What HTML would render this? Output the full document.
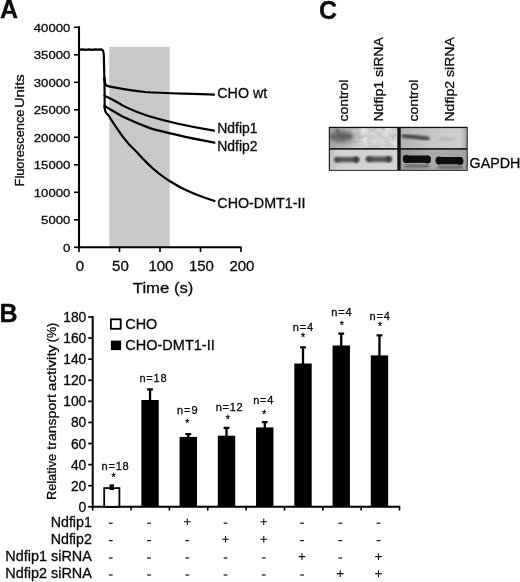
<!DOCTYPE html>
<html><head><meta charset="utf-8"><title>Figure</title>
<style>html,body{margin:0;padding:0;background:#fff}svg{display:block}text{font-family:"Liberation Sans",sans-serif;fill:#0a0a0a;stroke:#0a0a0a;stroke-width:0.3px}</style>
</head><body>
<svg width="520" height="582" viewBox="0 0 520 582">
<defs>
<filter id="b1" x="-30%" y="-80%" width="160%" height="260%"><feGaussianBlur stdDeviation="1.1"/></filter>
<filter id="b2" x="-30%" y="-80%" width="160%" height="260%"><feGaussianBlur stdDeviation="2.2"/></filter>
<filter id="b05" x="-30%" y="-80%" width="160%" height="260%"><feGaussianBlur stdDeviation="0.7"/></filter>
</defs>
<rect width="520" height="582" fill="#fff"/>
<text x="0" y="17.6" font-size="25" font-weight="bold" stroke="none" fill="#000">A</text>
<text x="-0.4" y="321.7" font-size="25" font-weight="bold" stroke="none" fill="#000">B</text>
<text x="319.1" y="19" font-size="25" font-weight="bold" stroke="none" fill="#000">C</text>
<g id="panelA">
<rect x="109.3" y="46.8" width="60.4" height="200" fill="#c8c8c8"/>
<path d="M79.0 26.3V247.3H241.6" fill="none" stroke="#000" stroke-width="2.1"/>
<line x1="74" x2="79.0" y1="247.30" y2="247.30" stroke="#000" stroke-width="1.6"/>
<text x="70.3" y="251.70" font-size="11.8" stroke-width="0.1" text-anchor="end" textLength="7.3" lengthAdjust="spacingAndGlyphs">0</text>
<line x1="74" x2="79.0" y1="219.80" y2="219.80" stroke="#000" stroke-width="1.6"/>
<text x="70.3" y="224.20" font-size="11.8" stroke-width="0.1" text-anchor="end" textLength="29.2" lengthAdjust="spacingAndGlyphs">5000</text>
<line x1="74" x2="79.0" y1="192.30" y2="192.30" stroke="#000" stroke-width="1.6"/>
<text x="70.3" y="196.70" font-size="11.8" stroke-width="0.1" text-anchor="end" textLength="36.5" lengthAdjust="spacingAndGlyphs">10000</text>
<line x1="74" x2="79.0" y1="164.80" y2="164.80" stroke="#000" stroke-width="1.6"/>
<text x="70.3" y="169.20" font-size="11.8" stroke-width="0.1" text-anchor="end" textLength="36.5" lengthAdjust="spacingAndGlyphs">15000</text>
<line x1="74" x2="79.0" y1="137.30" y2="137.30" stroke="#000" stroke-width="1.6"/>
<text x="70.3" y="141.70" font-size="11.8" stroke-width="0.1" text-anchor="end" textLength="36.5" lengthAdjust="spacingAndGlyphs">20000</text>
<line x1="74" x2="79.0" y1="109.80" y2="109.80" stroke="#000" stroke-width="1.6"/>
<text x="70.3" y="114.20" font-size="11.8" stroke-width="0.1" text-anchor="end" textLength="36.5" lengthAdjust="spacingAndGlyphs">25000</text>
<line x1="74" x2="79.0" y1="82.30" y2="82.30" stroke="#000" stroke-width="1.6"/>
<text x="70.3" y="86.70" font-size="11.8" stroke-width="0.1" text-anchor="end" textLength="36.5" lengthAdjust="spacingAndGlyphs">30000</text>
<line x1="74" x2="79.0" y1="54.80" y2="54.80" stroke="#000" stroke-width="1.6"/>
<text x="70.3" y="59.20" font-size="11.8" stroke-width="0.1" text-anchor="end" textLength="36.5" lengthAdjust="spacingAndGlyphs">35000</text>
<line x1="74" x2="79.0" y1="27.30" y2="27.30" stroke="#000" stroke-width="1.6"/>
<text x="70.3" y="31.70" font-size="11.8" stroke-width="0.1" text-anchor="end" textLength="36.5" lengthAdjust="spacingAndGlyphs">40000</text>
<line x1="79.00" x2="79.00" y1="247.3" y2="252" stroke="#000" stroke-width="1.6"/>
<text x="79.90" y="270.8" font-size="14.5" text-anchor="middle" textLength="8.35" lengthAdjust="spacingAndGlyphs">0</text>
<line x1="119.50" x2="119.50" y1="247.3" y2="252" stroke="#000" stroke-width="1.6"/>
<text x="120.40" y="270.8" font-size="14.5" text-anchor="middle" textLength="16.7" lengthAdjust="spacingAndGlyphs">50</text>
<line x1="160.00" x2="160.00" y1="247.3" y2="252" stroke="#000" stroke-width="1.6"/>
<text x="160.90" y="270.8" font-size="14.5" text-anchor="middle" textLength="25.049999999999997" lengthAdjust="spacingAndGlyphs">100</text>
<line x1="200.50" x2="200.50" y1="247.3" y2="252" stroke="#000" stroke-width="1.6"/>
<text x="201.40" y="270.8" font-size="14.5" text-anchor="middle" textLength="25.049999999999997" lengthAdjust="spacingAndGlyphs">150</text>
<line x1="241.00" x2="241.00" y1="247.3" y2="252" stroke="#000" stroke-width="1.6"/>
<text x="241.90" y="270.8" font-size="14.5" text-anchor="middle" textLength="25.049999999999997" lengthAdjust="spacingAndGlyphs">200</text>
<text x="163.1" y="292.5" font-size="15.5" text-anchor="middle" textLength="60.6" lengthAdjust="spacingAndGlyphs">Time (s)</text>
<text transform="translate(23.5,186.4) rotate(-90)" font-size="13.6" stroke-width="0.1" textLength="76.8" lengthAdjust="spacingAndGlyphs">Fluorescence</text>
<text transform="translate(23.5,108.1) rotate(-90)" font-size="13.6" stroke-width="0.1" textLength="33.8" lengthAdjust="spacingAndGlyphs">Units</text>
<path d="M79.5 49.6 L83 49.3 L86 49.8 L89 49.4 L92 49.8 L95 49.4 L98 49.7 L101 49.4 C103 49.5 103.6 51 103.8 55 L104.4 80" fill="none" stroke="#000" stroke-width="2.2" stroke-linejoin="round" stroke-linecap="round"/>
<path d="M104.4 78 C104.5 84 105.5 85.6 108.8 86.3 C120 88.6 130 90 145 92 C165 93.6 190 93.4 214 94.6" fill="none" stroke="#000" stroke-width="2.2" stroke-linejoin="round" stroke-linecap="round"/>
<path d="M104.5 78 L104.7 108" fill="none" stroke="#000" stroke-width="2.2" stroke-linejoin="round" stroke-linecap="round"/>
<path d="M104.5 95.6 C110 98.5 116 101 122.5 105.4 C131 110 141 113.6 150 116.5 C170 122.5 192 127 214 130.7" fill="none" stroke="#000" stroke-width="2.2" stroke-linejoin="round" stroke-linecap="round"/>
<path d="M104.5 105.6 C110 109.5 116 112.6 122.5 116.5 C131 120.6 141 124.8 150 128.1 C170 134 192 138.4 214.4 142.7" fill="none" stroke="#000" stroke-width="2.2" stroke-linejoin="round" stroke-linecap="round"/>
<path d="M104.7 106 L104.9 110 C105.3 112.5 106.6 113.6 108.8 115.8 C113 123 118 130 122.5 136.4 C127 142.5 131 147 136.3 151.5 C141 157 146 162 152.3 168 C158 173 163 177 169.6 181 C175 184.5 181 188 186.9 190.6 C193 193.5 198 195.5 204.2 197.5 L214.6 201" fill="none" stroke="#000" stroke-width="2.2" stroke-linejoin="round" stroke-linecap="round"/>
<text x="217.3" y="98.1" font-size="14" textLength="49.9" lengthAdjust="spacingAndGlyphs">CHO wt</text>
<text x="217.3" y="132.7" font-size="14" textLength="40.3" lengthAdjust="spacingAndGlyphs">Ndfip1</text>
<text x="217.3" y="150.7" font-size="14" textLength="40.3" lengthAdjust="spacingAndGlyphs">Ndfip2</text>
<text x="217.3" y="208.2" font-size="14" textLength="88.2" lengthAdjust="spacingAndGlyphs">CHO-DMT1-II</text>
</g>
<g id="panelB">
<path d="M92.7 316V506.8H400.2" fill="none" stroke="#000" stroke-width="2"/>
<line x1="88.2" x2="92.7" y1="506.80" y2="506.80" stroke="#000" stroke-width="1.7"/>
<text x="86.3" y="511.80" font-size="14" text-anchor="end" textLength="7.7" lengthAdjust="spacingAndGlyphs">0</text>
<line x1="88.2" x2="92.7" y1="485.71" y2="485.71" stroke="#000" stroke-width="1.7"/>
<text x="86.3" y="490.71" font-size="14" text-anchor="end" textLength="15.4" lengthAdjust="spacingAndGlyphs">20</text>
<line x1="88.2" x2="92.7" y1="464.62" y2="464.62" stroke="#000" stroke-width="1.7"/>
<text x="86.3" y="469.62" font-size="14" text-anchor="end" textLength="15.4" lengthAdjust="spacingAndGlyphs">40</text>
<line x1="88.2" x2="92.7" y1="443.53" y2="443.53" stroke="#000" stroke-width="1.7"/>
<text x="86.3" y="448.53" font-size="14" text-anchor="end" textLength="15.4" lengthAdjust="spacingAndGlyphs">60</text>
<line x1="88.2" x2="92.7" y1="422.44" y2="422.44" stroke="#000" stroke-width="1.7"/>
<text x="86.3" y="427.44" font-size="14" text-anchor="end" textLength="15.4" lengthAdjust="spacingAndGlyphs">80</text>
<line x1="88.2" x2="92.7" y1="401.35" y2="401.35" stroke="#000" stroke-width="1.7"/>
<text x="86.3" y="406.35" font-size="14" text-anchor="end" textLength="23.1" lengthAdjust="spacingAndGlyphs">100</text>
<line x1="88.2" x2="92.7" y1="380.26" y2="380.26" stroke="#000" stroke-width="1.7"/>
<text x="86.3" y="385.26" font-size="14" text-anchor="end" textLength="23.1" lengthAdjust="spacingAndGlyphs">120</text>
<line x1="88.2" x2="92.7" y1="359.17" y2="359.17" stroke="#000" stroke-width="1.7"/>
<text x="86.3" y="364.17" font-size="14" text-anchor="end" textLength="23.1" lengthAdjust="spacingAndGlyphs">140</text>
<line x1="88.2" x2="92.7" y1="338.08" y2="338.08" stroke="#000" stroke-width="1.7"/>
<text x="86.3" y="343.08" font-size="14" text-anchor="end" textLength="23.1" lengthAdjust="spacingAndGlyphs">160</text>
<line x1="88.2" x2="92.7" y1="316.99" y2="316.99" stroke="#000" stroke-width="1.7"/>
<text x="86.3" y="321.99" font-size="14" text-anchor="end" textLength="23.1" lengthAdjust="spacingAndGlyphs">180</text>
<line x1="92.70" x2="92.70" y1="506.8" y2="510.6" stroke="#000" stroke-width="1.6"/>
<line x1="131.05" x2="131.05" y1="506.8" y2="510.6" stroke="#000" stroke-width="1.6"/>
<line x1="169.40" x2="169.40" y1="506.8" y2="510.6" stroke="#000" stroke-width="1.6"/>
<line x1="207.75" x2="207.75" y1="506.8" y2="510.6" stroke="#000" stroke-width="1.6"/>
<line x1="246.10" x2="246.10" y1="506.8" y2="510.6" stroke="#000" stroke-width="1.6"/>
<line x1="284.45" x2="284.45" y1="506.8" y2="510.6" stroke="#000" stroke-width="1.6"/>
<line x1="322.80" x2="322.80" y1="506.8" y2="510.6" stroke="#000" stroke-width="1.6"/>
<line x1="361.15" x2="361.15" y1="506.8" y2="510.6" stroke="#000" stroke-width="1.6"/>
<line x1="399.50" x2="399.50" y1="506.8" y2="510.6" stroke="#000" stroke-width="1.6"/>
<text transform="translate(55.8,500.1) rotate(-90)" font-size="13.4" stroke-width="0.1" textLength="46.3" lengthAdjust="spacingAndGlyphs">Relative</text>
<text transform="translate(55.8,449.7) rotate(-90)" font-size="13.4" stroke-width="0.1" textLength="55.6" lengthAdjust="spacingAndGlyphs">transport</text>
<text transform="translate(55.8,390.9) rotate(-90)" font-size="13.4" stroke-width="0.1" textLength="46" lengthAdjust="spacingAndGlyphs">activity</text>
<text transform="translate(55.8,342.2) rotate(-90)" font-size="13.4" stroke-width="0.1" textLength="19.4" lengthAdjust="spacingAndGlyphs">(%)</text>
<rect x="110.9" y="319.3" width="9.8" height="9.5" fill="#fff" stroke="#000" stroke-width="1.8"/>
<rect x="110.9" y="340.6" width="10.2" height="9.5" fill="#000"/>
<text x="125.3" y="328.5" font-size="14" textLength="32" lengthAdjust="spacingAndGlyphs">CHO</text>
<text x="125.3" y="350.3" font-size="14" textLength="89.4" lengthAdjust="spacingAndGlyphs">CHO-DMT1-II</text>
<rect x="104.20" y="488.10" width="15.2" height="18.70" fill="#fff" stroke="#000" stroke-width="1.8"/>
<rect x="109.60" y="484.40" width="4.4" height="5.6" fill="#000"/>
<text x="115.1" y="470.0" font-size="11" stroke-width="0.15" text-anchor="middle" textLength="27.2" lengthAdjust="spacing">n=18</text>
<text x="113.6" y="481.4" font-size="10.5" text-anchor="middle">*</text>
<rect x="141.34" y="400.00" width="17.4" height="106.80" fill="#000"/>
<path d="M150.04 401.00V389.40M147.14 389.40H152.94" fill="none" stroke="#000" stroke-width="2.3"/>
<text x="153.0" y="382.2" font-size="11" stroke-width="0.15" text-anchor="middle" textLength="27.2" lengthAdjust="spacing">n=18</text>
<rect x="179.58" y="436.90" width="17.4" height="69.90" fill="#000"/>
<path d="M188.28 437.90V434.10M185.38 434.10H191.18" fill="none" stroke="#000" stroke-width="2.3"/>
<text x="187.3" y="414.2" font-size="11" stroke-width="0.15" text-anchor="middle" textLength="20.6" lengthAdjust="spacing">n=9</text>
<text x="187.3" y="427.3" font-size="10.5" text-anchor="middle">*</text>
<rect x="217.82" y="435.70" width="17.4" height="71.10" fill="#000"/>
<path d="M226.52 436.70V427.80M223.62 427.80H229.42" fill="none" stroke="#000" stroke-width="2.3"/>
<text x="229.2" y="410.8" font-size="11" stroke-width="0.15" text-anchor="middle" textLength="27" lengthAdjust="spacing">n=12</text>
<text x="227.7" y="422.7" font-size="10.5" text-anchor="middle">*</text>
<rect x="256.06" y="427.40" width="17.4" height="79.40" fill="#000"/>
<path d="M264.76 428.40V422.10M261.86 422.10H267.66" fill="none" stroke="#000" stroke-width="2.3"/>
<text x="263.3" y="403.9" font-size="11" stroke-width="0.15" text-anchor="middle" textLength="20.3" lengthAdjust="spacing">n=4</text>
<text x="264.2" y="418.0" font-size="10.5" text-anchor="middle">*</text>
<rect x="294.30" y="363.50" width="17.4" height="143.30" fill="#000"/>
<path d="M303.00 364.50V347.40M300.10 347.40H305.90" fill="none" stroke="#000" stroke-width="2.3"/>
<text x="302.9" y="331.2" font-size="11" stroke-width="0.15" text-anchor="middle" textLength="20.3" lengthAdjust="spacing">n=4</text>
<text x="303.1" y="341.2" font-size="10.5" text-anchor="middle">*</text>
<rect x="332.54" y="345.50" width="17.4" height="161.30" fill="#000"/>
<path d="M341.24 346.50V333.60M338.34 333.60H344.14" fill="none" stroke="#000" stroke-width="2.3"/>
<text x="341.4" y="315.7" font-size="11" stroke-width="0.15" text-anchor="middle" textLength="20.3" lengthAdjust="spacing">n=4</text>
<text x="341.7" y="328.5" font-size="10.5" text-anchor="middle">*</text>
<rect x="370.78" y="355.40" width="17.4" height="151.40" fill="#000"/>
<path d="M379.48 356.40V335.30M376.58 335.30H382.38" fill="none" stroke="#000" stroke-width="2.3"/>
<text x="379.6" y="319.6" font-size="11" stroke-width="0.15" text-anchor="middle" textLength="20.3" lengthAdjust="spacing">n=4</text>
<text x="380.0" y="329.9" font-size="10.5" text-anchor="middle">*</text>
<text x="91.9" y="526.5" font-size="14" text-anchor="end" textLength="41.2" lengthAdjust="spacingAndGlyphs">Ndfip1</text>
<text x="91.9" y="543.8" font-size="14" text-anchor="end" textLength="41.2" lengthAdjust="spacingAndGlyphs">Ndfip2</text>
<text x="91.9" y="561.1" font-size="14" text-anchor="end" textLength="86.6" lengthAdjust="spacingAndGlyphs">Ndfip1 siRNA</text>
<text x="91.9" y="578.2" font-size="14" text-anchor="end" textLength="86.6" lengthAdjust="spacingAndGlyphs">Ndfip2 siRNA</text>
<line x1="108.90" x2="112.70" y1="523.2" y2="523.2" stroke="#111" stroke-width="1.2"/>
<line x1="147.14" x2="150.94" y1="523.2" y2="523.2" stroke="#111" stroke-width="1.2"/>
<path d="M183.98 521.8000000000001H190.58M187.28 518.5000000000001V525.1" stroke="#111" stroke-width="1.1" fill="none"/>
<line x1="223.62" x2="227.42" y1="523.2" y2="523.2" stroke="#111" stroke-width="1.2"/>
<path d="M260.46 521.8000000000001H267.06M263.76 518.5000000000001V525.1" stroke="#111" stroke-width="1.1" fill="none"/>
<line x1="300.10" x2="303.90" y1="523.2" y2="523.2" stroke="#111" stroke-width="1.2"/>
<line x1="338.34" x2="342.14" y1="523.2" y2="523.2" stroke="#111" stroke-width="1.2"/>
<line x1="376.58" x2="380.38" y1="523.2" y2="523.2" stroke="#111" stroke-width="1.2"/>
<line x1="108.90" x2="112.70" y1="540.6" y2="540.6" stroke="#111" stroke-width="1.2"/>
<line x1="147.14" x2="150.94" y1="540.6" y2="540.6" stroke="#111" stroke-width="1.2"/>
<line x1="185.38" x2="189.18" y1="540.6" y2="540.6" stroke="#111" stroke-width="1.2"/>
<path d="M222.22 539.2H228.82M225.52 535.9000000000001V542.5" stroke="#111" stroke-width="1.1" fill="none"/>
<path d="M260.46 539.2H267.06M263.76 535.9000000000001V542.5" stroke="#111" stroke-width="1.1" fill="none"/>
<line x1="300.10" x2="303.90" y1="540.6" y2="540.6" stroke="#111" stroke-width="1.2"/>
<line x1="338.34" x2="342.14" y1="540.6" y2="540.6" stroke="#111" stroke-width="1.2"/>
<line x1="376.58" x2="380.38" y1="540.6" y2="540.6" stroke="#111" stroke-width="1.2"/>
<line x1="108.90" x2="112.70" y1="558" y2="558" stroke="#111" stroke-width="1.2"/>
<line x1="147.14" x2="150.94" y1="558" y2="558" stroke="#111" stroke-width="1.2"/>
<line x1="185.38" x2="189.18" y1="558" y2="558" stroke="#111" stroke-width="1.2"/>
<line x1="223.62" x2="227.42" y1="558" y2="558" stroke="#111" stroke-width="1.2"/>
<line x1="261.86" x2="265.66" y1="558" y2="558" stroke="#111" stroke-width="1.2"/>
<path d="M298.70 556.6H305.30M302.00 553.3000000000001V559.9" stroke="#111" stroke-width="1.1" fill="none"/>
<line x1="338.34" x2="342.14" y1="558" y2="558" stroke="#111" stroke-width="1.2"/>
<path d="M375.18 556.6H381.78M378.48 553.3000000000001V559.9" stroke="#111" stroke-width="1.1" fill="none"/>
<line x1="108.90" x2="112.70" y1="575" y2="575" stroke="#111" stroke-width="1.2"/>
<line x1="147.14" x2="150.94" y1="575" y2="575" stroke="#111" stroke-width="1.2"/>
<line x1="185.38" x2="189.18" y1="575" y2="575" stroke="#111" stroke-width="1.2"/>
<line x1="223.62" x2="227.42" y1="575" y2="575" stroke="#111" stroke-width="1.2"/>
<line x1="261.86" x2="265.66" y1="575" y2="575" stroke="#111" stroke-width="1.2"/>
<line x1="300.10" x2="303.90" y1="575" y2="575" stroke="#111" stroke-width="1.2"/>
<path d="M336.94 573.6H343.54M340.24 570.3000000000001V576.9" stroke="#111" stroke-width="1.1" fill="none"/>
<path d="M375.18 573.6H381.78M378.48 570.3000000000001V576.9" stroke="#111" stroke-width="1.1" fill="none"/>
</g>
<g id="panelC">
<text transform="translate(348.1,121.6) rotate(-90)" font-size="13.6" textLength="42" lengthAdjust="spacingAndGlyphs">control</text>
<text transform="translate(383.1,121.6) rotate(-90)" font-size="13.6" textLength="84.5" lengthAdjust="spacingAndGlyphs">Ndfip1 siRNA</text>
<text transform="translate(418.2,121.6) rotate(-90)" font-size="13.6" textLength="42" lengthAdjust="spacingAndGlyphs">control</text>
<text transform="translate(453.5,121.6) rotate(-90)" font-size="13.6" textLength="84.5" lengthAdjust="spacingAndGlyphs">Ndfip2 siRNA</text>
<text x="469.6" y="167.7" font-size="14.3" textLength="50.8" lengthAdjust="spacingAndGlyphs">GAPDH</text>
<linearGradient id="g1" x1="0" x2="1" y1="0" y2="0"><stop offset="0" stop-color="#a6a6a6"/><stop offset="0.3" stop-color="#bcbcbc"/><stop offset="0.5" stop-color="#cccccc"/><stop offset="1" stop-color="#d2d2d2"/></linearGradient>
<linearGradient id="g2" x1="0" x2="1" y1="0" y2="0"><stop offset="0" stop-color="#b2b2b2"/><stop offset="0.45" stop-color="#c6c6c6"/><stop offset="0.9" stop-color="#cecece"/><stop offset="1" stop-color="#a8a8a8"/></linearGradient>
<linearGradient id="g3" x1="0" x2="1" y1="0" y2="0"><stop offset="0" stop-color="#c0c0c0"/><stop offset="0.12" stop-color="#d1d1d1"/><stop offset="1" stop-color="#d5d5d5"/></linearGradient>
<linearGradient id="g4" x1="0" x2="1" y1="0" y2="0"><stop offset="0" stop-color="#9c9c9c"/><stop offset="0.5" stop-color="#aaaaaa"/><stop offset="1" stop-color="#a0a0a0"/></linearGradient>
<filter id="nz" x="0" y="0" width="100%" height="100%"><feTurbulence type="fractalNoise" baseFrequency="0.13 0.17" numOctaves="2" seed="7"/><feColorMatrix type="matrix" values="0 0 0 0 0.93  0 0 0 0 0.93  0 0 0 0 0.93  3 0 0 0 -1.2"/></filter>
<filter id="nd" x="0" y="0" width="100%" height="100%"><feTurbulence type="fractalNoise" baseFrequency="0.14 0.18" numOctaves="2" seed="11"/><feColorMatrix type="matrix" values="0 0 0 0 0.35  0 0 0 0 0.35  0 0 0 0 0.35  0 2.2 0 0 -0.95"/></filter>
<rect x="328.8" y="126.8" width="138.9" height="44" fill="#111"/>
<rect x="329.9" y="128.1" width="67.4" height="20" fill="url(#g1)"/>
<rect x="329.9" y="149.7" width="67.4" height="20.2" fill="url(#g3)"/>
<rect x="400.7" y="128.1" width="66" height="20" fill="url(#g2)"/>
<rect x="400.7" y="149.7" width="66" height="20.2" fill="url(#g4)"/>
<clipPath id="c1"><rect x="329.9" y="128.1" width="67.4" height="20"/></clipPath>
<clipPath id="c2"><rect x="329.9" y="149.7" width="67.4" height="20.2"/></clipPath>
<clipPath id="c3"><rect x="400.7" y="128.1" width="66" height="20"/></clipPath>
<clipPath id="c4"><rect x="400.7" y="149.7" width="66" height="20.2"/></clipPath>
<g clip-path="url(#c1)">
<ellipse cx="341.5" cy="136.6" rx="12.5" ry="5.6" fill="#484848" opacity="0.8" filter="url(#b2)"/>
<linearGradient id="mg" x1="0" x2="1" y1="0" y2="0"><stop offset="0.3" stop-color="#000"/><stop offset="0.5" stop-color="#fff"/></linearGradient><mask id="mk"><rect x="329.9" y="128.1" width="67.4" height="20" fill="url(#mg)"/></mask>
<g mask="url(#mk)"><rect x="329.9" y="128.1" width="67.4" height="20" filter="url(#nz)" opacity="0.6"/></g>
<rect x="329.9" y="128.1" width="67.4" height="20" filter="url(#nd)" opacity="0.5"/>
<ellipse cx="337.5" cy="130.7" rx="1.5" ry="1.4" fill="#3a3a3a" filter="url(#b1)"/>
</g>
<g clip-path="url(#c2)">
<rect x="334" y="156.9" width="25.5" height="5.4" rx="2.7" fill="#555" filter="url(#b1)"/>
<rect x="365.5" y="156.6" width="26.5" height="5.4" rx="2.7" fill="#555" filter="url(#b1)"/>
<ellipse cx="337.5" cy="159.8" rx="2.6" ry="2.4" fill="#444" filter="url(#b1)"/>
<ellipse cx="356" cy="159.6" rx="2.8" ry="2.8" fill="#3a3a3a" filter="url(#b1)"/>
<ellipse cx="369.5" cy="159.2" rx="2.6" ry="2.4" fill="#444" filter="url(#b1)"/>
<ellipse cx="388.5" cy="159.2" rx="2.8" ry="2.8" fill="#3a3a3a" filter="url(#b1)"/>
</g>
<g clip-path="url(#c3)">
<path d="M403.4 136.1 L415 137.1 L427.8 138.6" stroke="#484848" stroke-width="4" stroke-linecap="round" fill="none" filter="url(#b1)"/>
<ellipse cx="447" cy="139.2" rx="9" ry="1.6" fill="#b4b4b4" filter="url(#b1)"/>
</g>
<g clip-path="url(#c4)">
<rect x="403" y="155.6" width="27.5" height="7.2" rx="3.6" fill="#080808" filter="url(#b05)"/>
<rect x="435.8" y="157" width="27.3" height="7.2" rx="3.6" fill="#080808" filter="url(#b05)"/>
<ellipse cx="406.2" cy="159" rx="3.4" ry="4" fill="#080808" filter="url(#b05)"/><ellipse cx="427.6" cy="159.6" rx="3.4" ry="4" fill="#080808" filter="url(#b05)"/><ellipse cx="439" cy="160.4" rx="3.4" ry="4" fill="#080808" filter="url(#b05)"/><ellipse cx="460" cy="161" rx="3.4" ry="4" fill="#080808" filter="url(#b05)"/>
<rect x="404.5" y="164.8" width="25" height="2.8" rx="1.4" fill="#626262" filter="url(#b1)"/>
<rect x="437.5" y="165.8" width="25" height="2.8" rx="1.3" fill="#606060" filter="url(#b1)"/>
</g>
</g>
</svg></body></html>
